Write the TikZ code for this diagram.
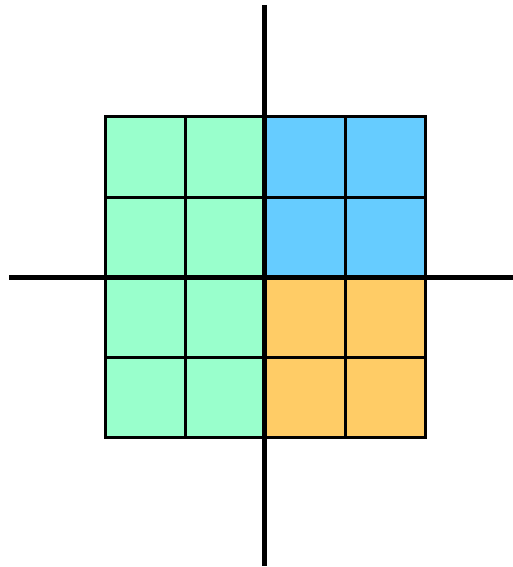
\documentclass[tikz,border=0pt]{standalone}
\definecolor{cellgreen}{HTML}{99FFCC}
\definecolor{cellblue}{HTML}{66CCFF}
\definecolor{cellorange}{HTML}{FFCC66}
\begin{document}
\begin{tikzpicture}[x=1pt,y=-1pt,
    cell/.style={draw=black, line width=3pt},
    axis/.style={line width=5pt}]
    \useasboundingbox (0,0) rectangle (513,567);
    % left half
    \foreach \i in {0,1} \foreach \j in {0,1,2,3}
        \draw[cell, fill=cellgreen] (105+80*\i,117+80*\j) rectangle +(80,80);
    % upper right
    \foreach \i in {2,3} \foreach \j in {0,1}
        \draw[cell, fill=cellblue] (105+80*\i,117+80*\j) rectangle +(80,80);
    % lower right
    \foreach \i in {2,3} \foreach \j in {2,3}
        \draw[cell, fill=cellorange] (105+80*\i,117+80*\j) rectangle +(80,80);
    % Axes
    \coordinate (xl) at (9,277.5);
    \coordinate (xr) at (513,277.5);
    \coordinate (yt) at (264.5,5);
    \coordinate (yb) at (264.5,566);
    \draw[axis] (xl) -- (xr);
    \draw[axis] (yt) -- (yb);
\end{tikzpicture}
\end{document}
